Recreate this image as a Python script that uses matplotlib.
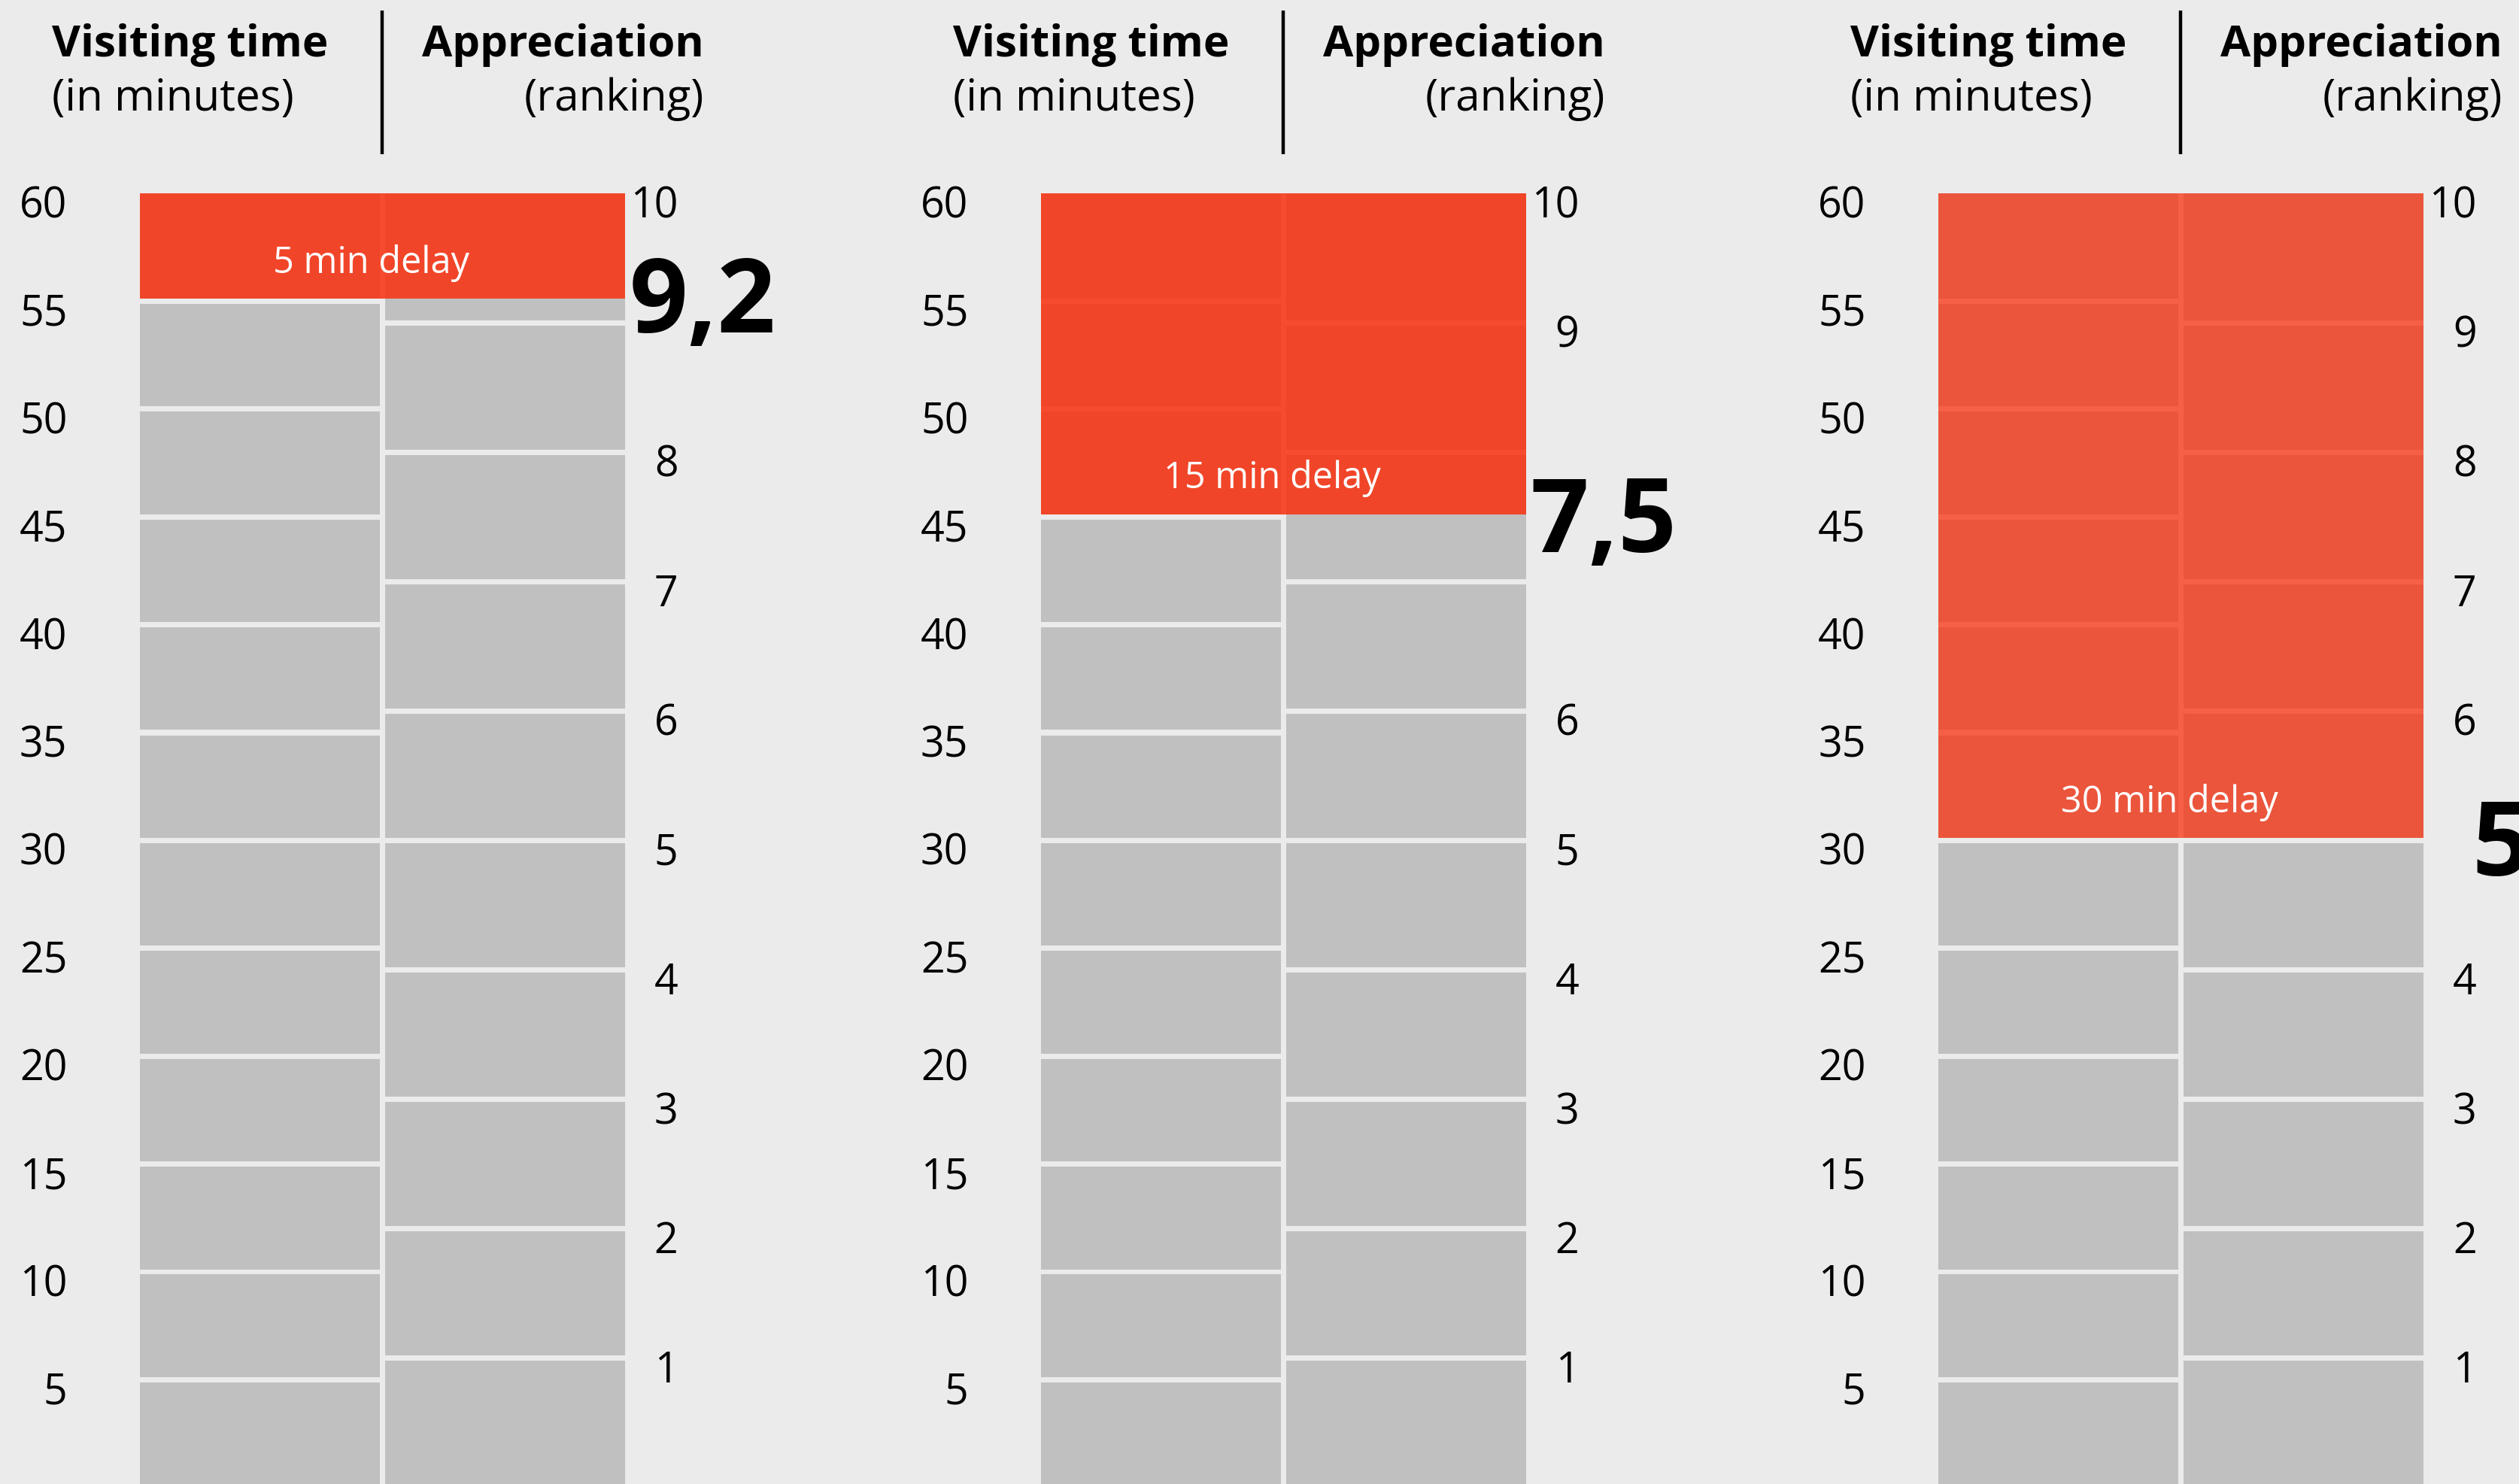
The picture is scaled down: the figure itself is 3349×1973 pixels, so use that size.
import matplotlib
matplotlib.use("Agg")
import matplotlib.pyplot as plt
from matplotlib.patches import Rectangle

# ---------------- data ----------------
minute_ticks = [5, 10, 15, 20, 25, 30, 35, 40, 45, 50, 55, 60]
rank_ticks = [1, 2, 3, 4, 5, 6, 7, 8, 9, 10]
delays = [5, 15, 30]
ratings = [9.2, 7.5, 5.0]
rating_labels = ["9,2", "7,5", "5"]
delay_labels = ["5 min delay", "15 min delay", "30 min delay"]
header_left = ["Visiting time", "(in minutes)"]
header_right = ["Appreciation", "(ranking)"]
max_minutes = 60
max_rank = 10

# ---------------- style ----------------
BG = "#ebebeb"
GRAY = "#c0c0c0"
RED = "#fa3110"
red_alpha = [0.86, 0.86, 0.75]
FONT = ["Open Sans", "DejaVu Sans"]
plt.rcParams["font.family"] = FONT

W, H, DPI = 3349, 1974, 100
PX60 = 258          # pixel row of the 60-minute line
PPM = 28.68         # pixels per minute
GAP_PX = 7
COLW = 319
dividers = [508, 1706, 2899]

fig = plt.figure(figsize=(W / DPI, H / DPI), dpi=DPI, facecolor=BG)
ax = fig.add_axes([0, 0, 1, 1])
ax.set_facecolor(BG)
ax.set_xlim(0, W)
ax.set_ylim(max_minutes - (H - PX60) / PPM, max_minutes + PX60 / PPM)
ax.axis("off")


def py(px):
    """layout pixel row -> minute units"""
    return max_minutes + (PX60 - px) / PPM


gap = GAP_PX / PPM
rank_scale = max_minutes / max_rank


def blocks(edges):
    bottoms = [e + gap / 2 for e in edges[:-1]]
    tops = [e - gap / 2 for e in edges[1:]]
    tops[-1] = edges[-1]
    return bottoms, [t - b for b, t in zip(bottoms, tops)]


for i, D in enumerate(dividers):
    lx = D - GAP_PX / 2 - COLW
    rx = D + GAP_PX / 2

    # left column: minutes
    medges = [0] + minute_ticks
    b, h = blocks(medges)
    ax.bar([lx] * len(b), h, bottom=b, width=COLW, align="edge",
           color=GRAY, linewidth=0)

    # right column: ranking
    redges = [r * rank_scale for r in [0] + rank_ticks]
    b, h = blocks(redges)
    ax.bar([rx] * len(b), h, bottom=b, width=COLW, align="edge",
           color=GRAY, linewidth=0)

    # red delay overlay
    y0 = max_minutes - delays[i] + gap / 2
    ax.add_patch(Rectangle((lx, y0), 2 * COLW + GAP_PX, max_minutes - y0,
                           facecolor=RED, alpha=red_alpha[i], linewidth=0,
                           zorder=3))
    ax.text(D - 14.5, max_minutes - delays[i] + 1.35, delay_labels[i],
            ha="center", va="baseline", color="white", fontsize=35, zorder=5)

    # left tick labels
    for t in minute_ticks:
        ax.text(lx - 96, t - 1.1, str(t), ha="right", va="baseline",
                fontsize=40, color="black")
    # right tick labels
    for r in rank_ticks:
        if abs(r - ratings[i]) < 0.6:
            continue
        ax.text(rx + COLW + 71, r * rank_scale - 1.1, str(r), ha="right",
                va="baseline", fontsize=40, color="black")

    # big rating
    ax.text(D + 426, ratings[i] * rank_scale - 1.6, rating_labels[i],
            ha="center", va="baseline", fontsize=98, fontweight="bold",
            color="black", zorder=6)

    # headers
    ax.text(D - 439, py(75), header_left[0], ha="left", va="baseline",
            fontsize=42, fontweight="bold", color="black")
    ax.text(D - 439, py(147), header_left[1], ha="left", va="baseline",
            fontsize=42, color="black")
    ax.text(D + 428, py(75), header_right[0], ha="right", va="baseline",
            fontsize=42, fontweight="bold", color="black")
    ax.text(D + 428, py(147), header_right[1], ha="right", va="baseline",
            fontsize=42, color="black")
    ax.plot([D, D], [py(15), py(206)], color="black", lw=3.2,
            solid_capstyle="butt")

fig.savefig("out.png", dpi=DPI, facecolor=BG)
